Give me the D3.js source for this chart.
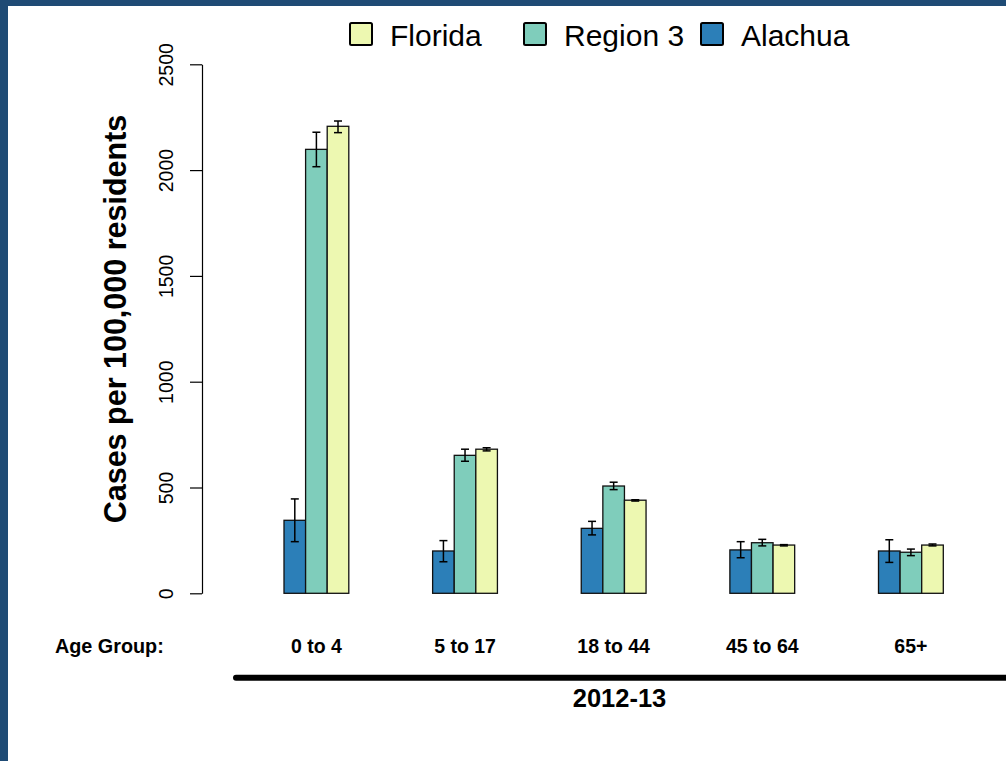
<!DOCTYPE html>
<html>
<head>
<meta charset="utf-8">
<script src="https://cdn.jsdelivr.net/npm/d3@7"></script>
<style>
  html, body { margin: 0; padding: 0; background: #ffffff; }
  svg { display: block; font-family: "Liberation Sans", Arial, Helvetica, sans-serif; }
</style>
</head>
<body>
<svg id="chart" width="1006" height="761"></svg>
<script>
// Age groups along the x axis
const ageGroups = ["0 to 4", "5 to 17", "18 to 44", "45 to 64", "65+"];
// Series drawn left to right inside each group
const seriesNames = ["Alachua", "Region 3", "Florida"];
const seriesColors = ["#2c7fb8", "#7fcdbb", "#edf8b1"];
// Rates (cases per 100,000 residents), one array per series
const alachuaRate = [345, 200, 307, 205, 200];
const region3Rate = [2098, 652, 507, 239, 194];
const floridaRate = [2207, 681, 440, 228, 228];
// Confidence interval bounds
const alachuaLow  = [244, 149, 276, 168, 146];
const alachuaHigh = [446, 249, 340, 244, 253];
const region3Low  = [2016, 624, 490, 224, 178];
const region3High = [2179, 681, 525, 255, 209];
const floridaLow  = [2177, 673, 436, 224, 224];
const floridaHigh = [2232, 688, 442, 230, 233];
// Axis ticks and labels
const yTicks = [0, 500, 1000, 1500, 2000, 2500];
const legendOrder = ["Florida", "Region 3", "Alachua"];
const seasonLabel = "2012-13";
const axisCaption = "Age Group:";
const yTitle = "Cases per 100,000 residents";

const rates = [alachuaRate, region3Rate, floridaRate];
const lows = [alachuaLow, region3Low, floridaLow];
const highs = [alachuaHigh, region3High, floridaHigh];

const rows = [];
ageGroups.forEach((g, gi) => {
  seriesNames.forEach((s, si) => {
    rows.push({ group: g, series: s, value: rates[si][gi], lo: lows[si][gi], hi: highs[si][gi], color: seriesColors[si] });
  });
});

const svg = d3.select("#chart");
const W = 1006, H = 761;

// page frame
svg.append("rect").attr("width", W).attr("height", H).attr("fill", "#ffffff");
svg.append("rect").attr("x", 0).attr("y", 0).attr("width", W).attr("height", 6).attr("fill", "#1f4b75");
svg.append("rect").attr("x", 0).attr("y", 0).attr("width", 8).attr("height", H).attr("fill", "#1f4b75");

// scales
const y = d3.scaleLinear().domain([0, 2500]).range([593.3, 64.3]);
const x0 = d3.scaleBand().domain(ageGroups).range([284, 943.3]).paddingInner(0.564).paddingOuter(0);
const x1 = d3.scaleBand().domain(seriesNames).range([0, x0.bandwidth()]).padding(0);

// y axis
const axisX = 202;
const yAxis = svg.append("g")
  .attr("transform", `translate(${axisX},0)`)
  .call(d3.axisLeft(y).tickValues(yTicks).tickSize(12).tickSizeOuter(0).tickFormat(d3.format("d")));
yAxis.select(".domain").attr("stroke", "#000").attr("stroke-width", 1.2);
yAxis.selectAll(".tick line").attr("stroke", "#000").attr("stroke-width", 1.2);
yAxis.selectAll(".tick text")
  .attr("transform", "rotate(-90)")
  .attr("x", 0).attr("y", -29).attr("dy", 0)
  .attr("text-anchor", "middle")
  .attr("fill", "#000")
  .style("font-family", "'Liberation Sans', Arial, sans-serif")
  .style("font-size", "19.5px");

// y title
svg.append("text")
  .attr("transform", `translate(126,319) rotate(-90)`)
  .attr("text-anchor", "middle")
  .style("font-size", "30.5px").style("font-weight", "bold")
  .text(yTitle);

// bars
const bars = svg.append("g");
bars.selectAll("rect").data(rows).join("rect")
  .attr("x", d => x0(d.group) + x1(d.series))
  .attr("y", d => y(d.value))
  .attr("width", x1.bandwidth())
  .attr("height", d => y(0) - y(d.value))
  .attr("fill", d => d.color)
  .attr("stroke", "#111")
  .attr("stroke-width", 1.3);

// error bars
const cap = 4;
const eb = svg.append("g").attr("stroke", "#000").attr("stroke-width", 1.5);
rows.forEach(d => {
  const cx = x0(d.group) + x1(d.series) + x1.bandwidth() / 2;
  eb.append("line").attr("x1", cx).attr("x2", cx).attr("y1", y(d.lo)).attr("y2", y(d.hi));
  eb.append("line").attr("x1", cx - cap).attr("x2", cx + cap).attr("y1", y(d.lo)).attr("y2", y(d.lo));
  eb.append("line").attr("x1", cx - cap).attr("x2", cx + cap).attr("y1", y(d.hi)).attr("y2", y(d.hi));
});

// age group labels
svg.append("text").attr("x", 55).attr("y", 653)
  .style("font-size", "19.8px").style("font-weight", "bold").text(axisCaption);
svg.append("g").selectAll("text").data(ageGroups).join("text")
  .attr("x", d => x0(d) + x0.bandwidth() / 2)
  .attr("y", 653)
  .attr("text-anchor", "middle")
  .style("font-size", "19.5px").style("font-weight", "bold")
  .text(d => d);

// season bracket
svg.append("line").attr("x1", 236).attr("x2", 1020).attr("y1", 677.7).attr("y2", 677.7)
  .attr("stroke", "#000").attr("stroke-width", 6).attr("stroke-linecap", "round");
svg.append("text").attr("x", 619.5).attr("y", 707)
  .attr("text-anchor", "middle")
  .style("font-size", "25.5px").style("font-weight", "bold")
  .text(seasonLabel);

// legend
const legendX = [350, 524, 701];
const lg = svg.append("g");
legendOrder.forEach((name, i) => {
  const col = seriesColors[seriesNames.indexOf(name)];
  lg.append("rect").attr("x", legendX[i]).attr("y", 23).attr("width", 22).attr("height", 22)
    .attr("fill", col).attr("stroke", "#000").attr("stroke-width", 2).attr("rx", 1.5);
  lg.append("text").attr("x", legendX[i] + 40).attr("y", 45.5)
    .style("font-size", "30px").text(name);
});
</script>
</body>
</html>
